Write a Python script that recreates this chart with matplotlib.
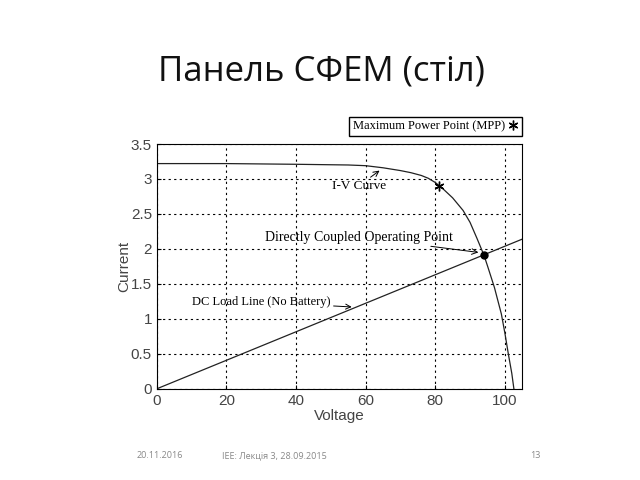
import numpy as np
import matplotlib.pyplot as plt
from matplotlib.lines import Line2D

# I-V curve
iv_voltage = [0, 20, 40, 55, 60, 65, 70, 73, 76, 78, 80, 82, 85, 88, 90, 92, 93, 94, 95, 97, 99, 100, 101, 102, 102.6]
iv_current = [3.22, 3.22, 3.21, 3.2, 3.19, 3.16, 3.12, 3.09, 3.05, 3.01, 2.95, 2.87, 2.73, 2.55, 2.38, 2.15, 2.03, 1.91, 1.76, 1.45, 1.07, 0.8, 0.5, 0.22, 0.0]

# DC load line (no battery)
load_voltage = [0, 105]
load_current = [0, 2.14]

mpp = (81, 2.9)
op_point = (94, 1.91)

x_ticks = [0, 20, 40, 60, 80, 100]
y_ticks = [0, 0.5, 1, 1.5, 2, 2.5, 3, 3.5]
y_labels = ['0', '0.5', '1', '1.5', '2', '2.5', '3', '3.5']

serif = 'Liberation Serif'
sans = 'Liberation Sans'

fig = plt.figure(figsize=(6.4, 4.8), dpi=100)
ax = fig.add_axes([0.245, 0.19, 0.571, 0.51])

ax.plot(iv_voltage, iv_current, color='#222222', linewidth=0.9)
ax.plot(load_voltage, load_current, color='#222222', linewidth=0.9)
ax.plot(*mpp, marker=(6, 2, 0), color='black', markersize=7, markeredgewidth=1)
ax.plot(*op_point, marker='o', color='black', markersize=5)

ax.set_xlim(0, 105)
ax.set_ylim(0, 3.5)
ax.set_xticks(x_ticks)
ax.set_yticks(y_ticks)
ax.set_yticklabels(y_labels)
ax.tick_params(direction='in', labelsize=11, length=3)
for lbl in ax.get_xticklabels() + ax.get_yticklabels():
    lbl.set_family(sans)
    lbl.set_color('#444444')
ax.grid(True, color='black', linestyle=(0, (2, 3)), linewidth=0.8)
ax.set_xlabel('Voltage', fontsize=11, family=sans, color='#444444', labelpad=1)
ax.set_ylabel('Current', fontsize=11, family=sans, color='#444444', labelpad=0)

arrow = dict(arrowstyle='->', color='black', lw=0.7, shrinkA=0, shrinkB=0)
ax.annotate('I-V Curve', xy=(64, 3.12), xytext=(58, 2.9), fontsize=9.5, family=serif,
            ha='center', va='center', arrowprops=arrow)
ax.annotate('Directly Coupled Operating Point', xy=(92.4, 1.95), xytext=(85, 2.17),
            fontsize=10, family=serif, ha='right', va='center', arrowprops=arrow)
ax.annotate('DC Load Line (No Battery)', xy=(56, 1.17), xytext=(50, 1.24),
            fontsize=9, family=serif, ha='right', va='center', arrowprops=arrow)

handle = Line2D([], [], linestyle='none', marker=(6, 2, 0), color='black',
                markersize=7, markeredgewidth=1)
fig.legend([handle], ['Maximum Power Point (MPP)'], loc='upper right',
           bbox_to_anchor=(0.816, 0.757), borderaxespad=0, markerfirst=False,
           fancybox=False, edgecolor='black', framealpha=1, handlelength=0.8,
           handletextpad=0.3, borderpad=0.3, prop={'family': serif, 'size': 9})

fig.text(0.502, 0.852, 'Панель СФЕМ (стіл)', fontsize=25, family='Open Sans',
         ha='center', va='center', color='#111111')
fig.text(0.214, 0.05, '20.11.2016', fontsize=6.5, family='Open Sans', color='#888888', va='center')
fig.text(0.347, 0.05, 'IEE: Лекція 3, 28.09.2015', fontsize=6.5, family='Open Sans', color='#888888', va='center')
fig.text(0.828, 0.05, '13', fontsize=6.5, family='Open Sans', color='#888888', va='center')

fig.savefig('out.png', dpi=100)
